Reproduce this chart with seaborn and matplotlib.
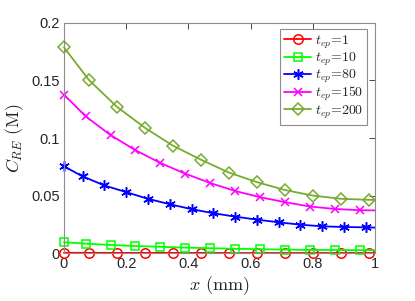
import matplotlib
matplotlib.use("Agg")
import matplotlib.pyplot as plt
import seaborn as sns

# --------------------------
# DATA
# --------------------------
x_t1 = [0, 0.08, 0.17, 0.26, 0.35, 0.44, 0.53, 0.62, 0.71, 0.80, 0.89, 0.98, 1.0]
c_t1 = [0.0003, 0.0003, 0.0002, 0.0002, 0.0002, 0.0002, 0.0001, 0.0001, 0.0001, 0.0001, 0.0001, 0.0001, 0.0001]

x_t10 = [0, 0.07, 0.15, 0.23, 0.31, 0.39, 0.47, 0.55, 0.63, 0.71, 0.79, 0.87, 0.95, 1.0]
c_t10 = [0.0095, 0.0082, 0.0071, 0.0062, 0.0055, 0.0048, 0.0043, 0.0038, 0.0034, 0.0031, 0.0028, 0.0027, 0.0026, 0.0026]

x_t80 = [0, 0.06, 0.13, 0.20, 0.27, 0.34, 0.41, 0.48, 0.55, 0.62, 0.69, 0.76, 0.83, 0.90, 0.97, 1.0]
c_t80 = [0.0754, 0.0667, 0.0588, 0.0530, 0.0472, 0.0425, 0.0382, 0.0347, 0.0317, 0.0291, 0.0268, 0.0247, 0.0233, 0.0227, 0.0224, 0.0222]

x_t150 = [0, 0.07, 0.15, 0.23, 0.31, 0.39, 0.47, 0.55, 0.63, 0.71, 0.79, 0.87, 0.95, 1.0]
c_t150 = [0.1377, 0.1188, 0.1025, 0.0894, 0.0783, 0.0690, 0.0609, 0.0540, 0.0486, 0.0443, 0.0405, 0.0384, 0.0373, 0.0371]

x_t200 = [0, 0.08, 0.17, 0.26, 0.35, 0.44, 0.53, 0.62, 0.71, 0.80, 0.89, 0.98, 1.0]
c_t200 = [0.1788, 0.1505, 0.1272, 0.1089, 0.0934, 0.0812, 0.0700, 0.0617, 0.0548, 0.0500, 0.0472, 0.0463, 0.0462]

labels = ["$t_{ep}$=1", "$t_{ep}$=10", "$t_{ep}$=80", "$t_{ep}$=150", "$t_{ep}$=200"]
xticks = [0, 0.2, 0.4, 0.6, 0.8, 1]
xticklabels = ["0", "0.2", "0.4", "0.6", "0.8", "1"]
yticks = [0, 0.05, 0.1, 0.15, 0.2]
yticklabels = ["0", "0.05", "0.1", "0.15", "0.2"]

# --------------------------
# STYLE
# --------------------------
sns.set_theme(style="white")
plt.rcParams["font.family"] = ["Liberation Sans", "DejaVu Sans"]
plt.rcParams["mathtext.fontset"] = "cm"
plt.rcParams["axes.unicode_minus"] = False

# (x, y, colour, marker, marker size, face colour)
series = [
    (x_t1, c_t1, "#ff0000", "o", 6.8, "none"),
    (x_t10, c_t10, "#00ff00", "s", 6.0, "none"),
    (x_t80, c_t80, "#0000ff", (6, 2, 0), 7.5, "#0000ff"),
    (x_t150, c_t150, "#ff00ff", "x", 5.5, "#ff00ff"),
    (x_t200, c_t200, "#77ac30", "D", 6.0, "none"),
]

fig = plt.figure(figsize=(4.15, 3.01), dpi=100)
ax = fig.add_axes([0.154, 0.159, 0.750, 0.765])

for (xs, ys, col, mk, ms, fc), lab in zip(series, labels):
    sns.lineplot(x=xs, y=ys, ax=ax, color=col, lw=1.3, marker=mk, ms=ms,
                 mew=1.1, mec=col, mfc=fc, markevery=list(range(len(xs) - 1)),
                 label=lab, clip_on=False)

ax.set_xlim(0, 1)
ax.set_ylim(0, 0.2)
ax.set_xticks(xticks)
ax.set_xticklabels(xticklabels)
ax.set_yticks(yticks)
ax.set_yticklabels(yticklabels)
ax.tick_params(direction="in", length=4, width=0.6, colors="#262626",
               labelsize=10.5, top=True, right=True, pad=3)
for sp in ax.spines.values():
    sp.set_color("#8c8c8c")
    sp.set_linewidth(0.8)

ax.set_xlabel("$x$ (mm)", fontsize=13, family="cmr10", color="#262626", labelpad=2)
ax.set_ylabel("$C_{RE}$ (M)", fontsize=13, family="cmr10", color="#262626", labelpad=4)

leg = ax.legend(loc="upper right", bbox_to_anchor=(0.975, 0.973), borderaxespad=0,
                prop={"family": "cmr10", "size": 10}, handlelength=1.9,
                labelspacing=0.0, handletextpad=0.3, borderpad=0.3,
                fancybox=False, framealpha=1, edgecolor="#8c8c8c")
leg.get_frame().set_linewidth(0.8)

fig.savefig("out.png", dpi=100)
